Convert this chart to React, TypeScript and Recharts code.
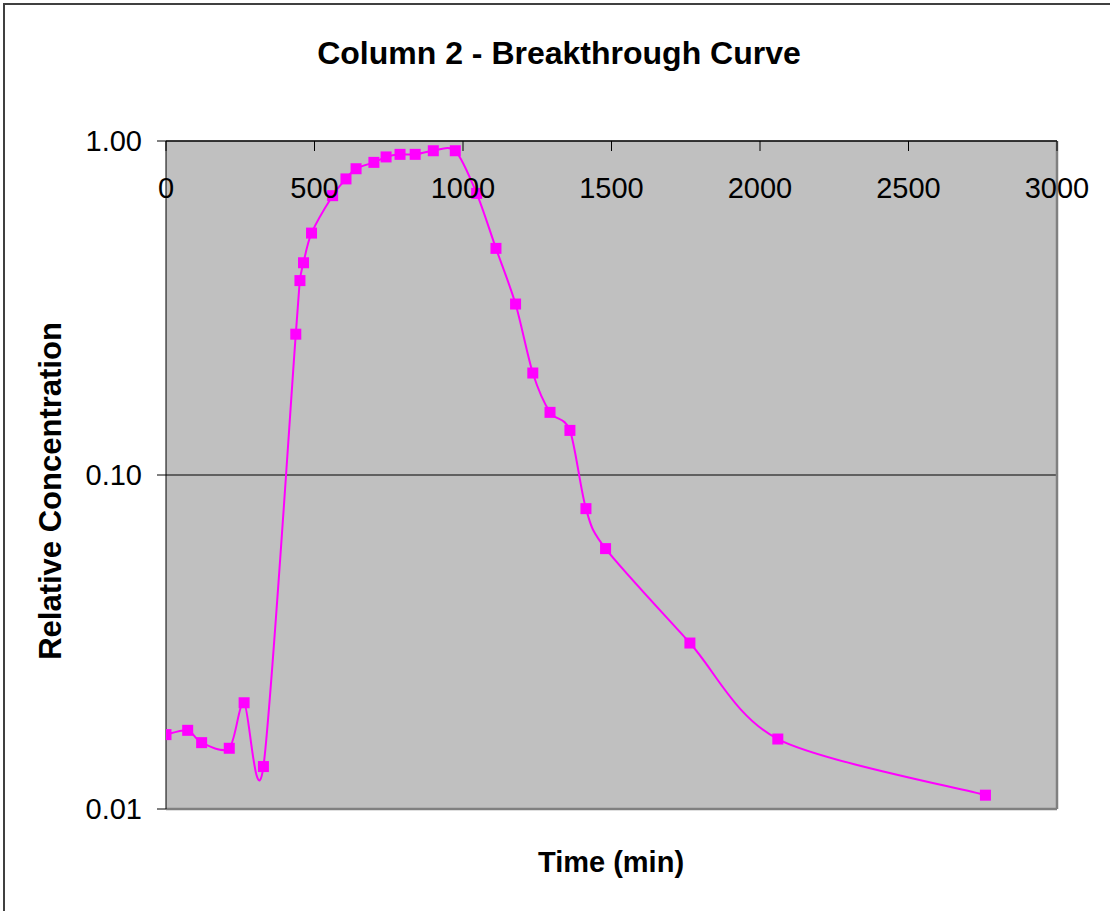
import { LineChart, Line, XAxis, YAxis, CartesianGrid, ReferenceLine } from 'recharts';

const times = [0, 73, 120, 213, 263, 328, 437, 451, 463, 490, 561, 606, 640, 700, 741, 788, 839, 900, 974, 1046, 1111, 1177, 1235, 1293, 1360, 1414, 1480, 1764, 2060, 2759];
const concentrations = [0.0167, 0.0172, 0.0158, 0.0152, 0.0208, 0.0134, 0.264, 0.382, 0.432, 0.53, 0.686, 0.77, 0.826, 0.863, 0.896, 0.912, 0.912, 0.935, 0.935, 0.697, 0.477, 0.325, 0.202, 0.154, 0.136, 0.0793, 0.0602, 0.0314, 0.0162, 0.011];
const xTicks = [0, 500, 1000, 1500, 2000, 2500, 3000];
const yTicks = [0.01, 0.1, 1];

const data = times.map((t, i) => ({ t, c: concentrations[i] }));

const FONT = '"Liberation Sans", Arial, sans-serif';

// Excel-style smoothed line (Catmull-Rom through the points)
function excelSmooth(context: any) {
  let pts: [number, number][] = [];
  const k = 1 / 7;
  return {
    areaStart() {},
    areaEnd() {},
    lineStart() {
      pts = [];
    },
    lineEnd() {
      const n = pts.length;
      if (!n) return;
      context.moveTo(pts[0][0], pts[0][1]);
      for (let i = 0; i < n - 1; i++) {
        const p0 = pts[i - 1] || pts[i];
        const p1 = pts[i];
        const p2 = pts[i + 1];
        const p3 = pts[i + 2] || p2;
        context.bezierCurveTo(
          p1[0] + (p2[0] - p0[0]) * k,
          p1[1] + (p2[1] - p0[1]) * k,
          p2[0] - (p3[0] - p1[0]) * k,
          p2[1] - (p3[1] - p1[1]) * k,
          p2[0],
          p2[1]
        );
      }
    },
    point(x: number, y: number) {
      pts.push([+x, +y]);
    },
  };
}

const SquareDot = (props: any) => {
  const { cx, cy, index } = props;
  if (cx == null || cy == null) return null;
  return <rect key={index} x={cx - 5.5} y={cy - 5.5} width={11} height={11} fill="#FF00FF" />;
};

export default function App() {
  return (
    <div style={{ position: 'absolute', left: 0, top: 0, width: 1110, height: 911, background: '#fff', fontFamily: FONT }}>
      <div
        style={{
          position: 'absolute',
          left: 3,
          top: 3,
          width: 1120,
          height: 920,
          borderLeft: '2px solid #404040',
          borderTop: '2px solid #404040',
        }}
      />
      <LineChart width={1110} height={911} data={data} margin={{ top: 141, right: 53, bottom: 102, left: 86 }}>
        <CartesianGrid fill="#C0C0C0" vertical={false} stroke="#404040" strokeWidth={1.5} />
        <XAxis
          dataKey="t"
          type="number"
          orientation="top"
          mirror
          domain={[0, 3000]}
          ticks={xTicks}
          interval={0}
          tickSize={10}
          tickMargin={26}
          stroke="#000"
          tick={{ fill: '#000', fontSize: 29, fontFamily: FONT }}
          allowDataOverflow
        />
        <YAxis
          dataKey="c"
          scale="log"
          domain={[0.01, 1]}
          ticks={yTicks}
          interval={0}
          width={80}
          tickSize={9}
          tickMargin={15}
          stroke="#000"
          tickFormatter={(v: number) => v.toFixed(2)}
          tick={{ fill: '#000', fontSize: 29, fontFamily: FONT }}
          allowDataOverflow
        />
        <ReferenceLine x={3000} stroke="#808080" strokeWidth={2.5} />
        <ReferenceLine y={0.01} stroke="#808080" strokeWidth={2.5} />
        <Line
          dataKey="c"
          type={excelSmooth as any}
          stroke="#FF00FF"
          strokeWidth={2}
          dot={<SquareDot />}
          activeDot={false}
          isAnimationActive={false}
        />
      </LineChart>
      <svg width={1110} height={911} style={{ position: 'absolute', left: 0, top: 0, pointerEvents: 'none' }}>
        <text x={559} y={53} textAnchor="middle" dominantBaseline="central" fontSize={32} fontWeight="bold" fontFamily={FONT}>
          Column 2 - Breakthrough Curve
        </text>
        <text x={611} y={862} textAnchor="middle" dominantBaseline="central" fontSize={29} fontWeight="bold" fontFamily={FONT}>
          Time (min)
        </text>
        <text
          x={50}
          y={491}
          textAnchor="middle"
          dominantBaseline="central"
          fontSize={31}
          fontWeight="bold"
          fontFamily={FONT}
          transform="rotate(-90 50 491)"
        >
          Relative Concentration
        </text>
      </svg>
    </div>
  );
}
